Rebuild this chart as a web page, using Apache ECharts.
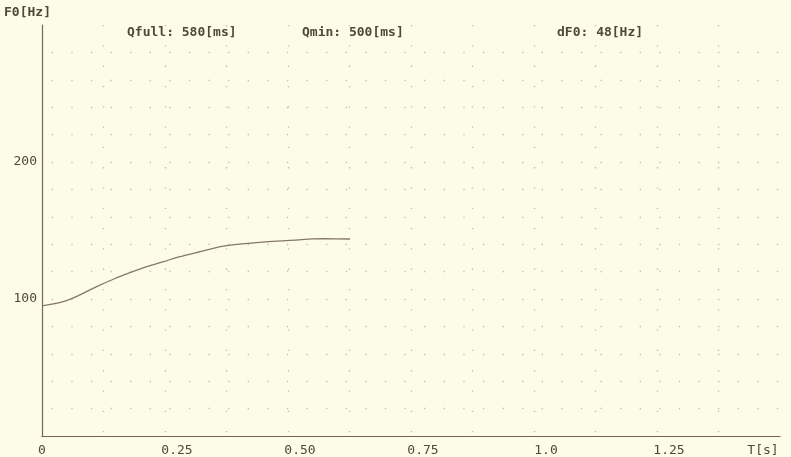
<!DOCTYPE html>
<html>
<head>
<meta charset="utf-8">
<script src="https://cdn.jsdelivr.net/npm/echarts@6/dist/echarts.min.js"></script>
<style>
html,body{margin:0;padding:0;background:#fdfce8;}
#c{width:791px;height:457px;}
</style>
</head>
<body>
<div id="c"></div>
<script>
// Data
var timeS = [0, 0.043, 0.077, 0.111, 0.145, 0.179, 0.213, 0.247, 0.280, 0.314, 0.369, 0.436, 0.497, 0.572, 0.626];
var f0Hz  = [95, 98, 103, 109, 114.4, 119.2, 123.6, 127.2, 130.9, 133.8, 138.6, 141.1, 142.6, 144.0, 143.8];
var xTickLabels = {'0': '0', '0.25': '0.25', '0.5': '0.50', '0.75': '0.75', '1': '1.0', '1.25': '1.25', '1.5': 'T[s]'};
var yTickLabels = {'100': '100', '200': '200'};
var yTitle = 'F0[Hz]';
var headerTexts = ['Qfull: 580[ms]', 'Qmin: 500[ms]', 'dF0: 48[Hz]'];

var txtColor = '#4f4a36';
var dotColor = '#c2bfaa';
var font = 'DejaVu Sans Mono';

var chart = echarts.init(document.getElementById('c'));
var pts = timeS.map(function (t, i) { return [t, f0Hz[i]]; });

chart.setOption({
  backgroundColor: '#fdfce8',
  animation: false,
  grid: {left: 42, right: 11, top: 25, bottom: 21},
  xAxis: {
    type: 'value', min: 0, max: 1.5, interval: 0.125,
    axisLine: {lineStyle: {color: '#7a5f58', width: 1.2}},
    axisTick: {show: false},
    splitLine: {show: true, showMinLine: false, showMaxLine: false,
      lineStyle: {color: dotColor, width: 1.4, type: [1.3, 19], dashOffset: 0}},
    axisLabel: {
      margin: 8, color: txtColor, fontFamily: font, fontSize: 13,
      showMinLabel: true, showMaxLabel: true,
      formatter: function (v) {
        var k = String(Math.round(v * 1000) / 1000);
        var s = xTickLabels[k];
        if (s === undefined) return '';
        if (k === '0') return '{z|' + s + '}';
        if (k === '1.5') return '{t|' + s + '}';
        return '{a|' + s + '}';
      },
      rich: {
        z: {fontFamily: font, fontSize: 13, color: txtColor},
        a: {fontFamily: font, fontSize: 13, color: txtColor, padding: [0, 0, 0, 24]},
        t: {fontFamily: font, fontSize: 13, color: txtColor, padding: [0, 34, 0, 0]}
      }
    }
  },
  yAxis: {
    type: 'value', min: 0, max: 300, interval: 20,
    axisLine: {show: true, lineStyle: {color: '#6e6a5e', width: 1.2}},
    axisTick: {show: false},
    splitLine: {show: true, showMinLine: false, showMaxLine: false,
      lineStyle: {color: dotColor, width: 1.4, type: [1.3, 18.3], dashOffset: 9.9}},
    axisLabel: {
      margin: 5, color: txtColor, fontFamily: font, fontSize: 13,
      formatter: function (v) { var s = yTickLabels[String(v)]; return s === undefined ? '' : s; }
    }
  },
  graphic: [
    {type: 'text', left: 4, top: 6, style: {text: yTitle, fill: txtColor, font: 'bold 13px "' + font + '"'}},
    {type: 'text', left: 127, top: 26, style: {text: headerTexts[0], fill: txtColor, font: 'bold 13px "' + font + '"'}},
    {type: 'text', left: 302, top: 26, style: {text: headerTexts[1], fill: txtColor, font: 'bold 13px "' + font + '"'}},
    {type: 'text', left: 557, top: 26, style: {text: headerTexts[2], fill: txtColor, font: 'bold 13px "' + font + '"'}}
  ],
  series: [{
    type: 'line', data: pts, showSymbol: false, smooth: 0.3,
    lineStyle: {color: '#857868', width: 1.3}
  }]
});
</script>
</body>
</html>
